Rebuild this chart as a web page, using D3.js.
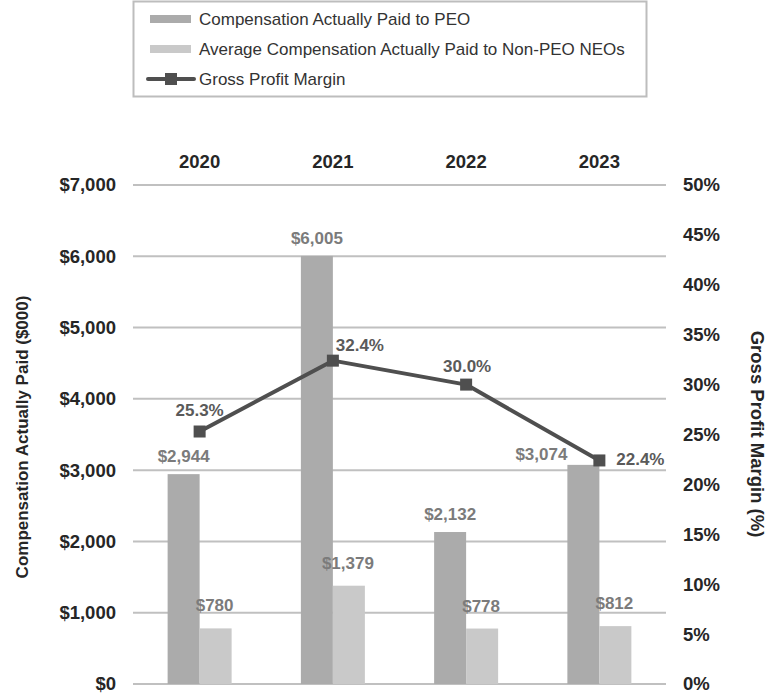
<!DOCTYPE html>
<html>
<head>
<meta charset="utf-8">
<script src="https://cdn.jsdelivr.net/npm/d3@7"></script>
<style>
  body { margin: 0; background: #fff; }
  svg { font-family: "Liberation Sans", Arial, sans-serif; display: block; }
</style>
</head>
<body>
<svg id="chart" width="767" height="696"></svg>
<script>
var years = ["2020", "2021", "2022", "2023"],
    peoPaid = [2944, 6005, 2132, 3074],
    neoPaid = [780, 1379, 778, 812],
    margin = [25.3, 32.4, 30.0, 22.4],
    leftTicks = [0, 1000, 2000, 3000, 4000, 5000, 6000, 7000],
    rightTicks = [0, 5, 10, 15, 20, 25, 30, 35, 40, 45, 50],
    legendNames = ["Compensation Actually Paid to PEO",
                   "Average Compensation Actually Paid to Non-PEO NEOs",
                   "Gross Profit Margin"];

var peoColor = "#ababab",
    neoColor = "#c9c9c9",
    lineColor = "#4f4f4f",
    gridColor = "#c0c0c0",
    axisText = "#262626",
    tickSize = 18.5;

var svg = d3.select("#chart");

var x = d3.scaleBand().domain(years).range([133, 666]);
var yL = d3.scaleLinear().domain([0, 7000]).range([684, 185]);
var yR = d3.scaleLinear().domain([0, 50]).range([684, 185]);
var barW = 32;

var money = d3.format("$,");

// gridlines (left axis ticks only)
svg.append("g").selectAll("line")
    .data(leftTicks)
    .enter().append("line")
    .attr("x1", 133).attr("x2", 666)
    .attr("y1", function(d) { return yL(d); })
    .attr("y2", function(d) { return yL(d); })
    .attr("stroke", gridColor)
    .attr("stroke-width", 2);

function styleTicks(g) {
    g.select(".domain").remove();
    g.selectAll("text").attr("font-size", tickSize).attr("font-weight", "bold")
        .attr("fill", axisText).attr("font-family", "Liberation Sans, Arial, sans-serif");
}

// left axis
var leftAxis = d3.axisLeft(yL).tickValues(leftTicks).tickSize(0).tickPadding(17)
    .tickFormat(function(d) { return money(d); });
svg.append("g").attr("transform", "translate(133,0)").call(leftAxis).call(styleTicks);

// right axis
var rightAxis = d3.axisRight(yR).tickValues(rightTicks).tickSize(0).tickPadding(17)
    .tickFormat(function(d) { return d + "%"; });
svg.append("g").attr("transform", "translate(666,0)").call(rightAxis).call(styleTicks);

// top category axis
var topAxis = d3.axisTop(x).tickSize(0).tickPadding(0);
var gt = svg.append("g").attr("transform", "translate(0,168)").call(topAxis).call(styleTicks);
gt.selectAll("text").attr("dy", 0);

function cx(i) { return x(years[i]) + x.bandwidth() / 2; }

// bars
svg.append("g").selectAll("rect")
    .data(peoPaid)
    .enter().append("rect")
    .attr("x", function(d, i) { return cx(i) - barW; })
    .attr("y", function(d) { return yL(d); })
    .attr("width", barW)
    .attr("height", function(d) { return yL(0) - yL(d); })
    .attr("fill", peoColor);

svg.append("g").selectAll("rect")
    .data(neoPaid)
    .enter().append("rect")
    .attr("x", function(d, i) { return cx(i); })
    .attr("y", function(d) { return yL(d); })
    .attr("width", barW)
    .attr("height", function(d) { return yL(0) - yL(d); })
    .attr("fill", neoColor);

// bar labels
svg.append("g").selectAll("text")
    .data(peoPaid)
    .enter().append("text")
    .attr("x", function(d, i) { return i == 3 ? cx(i) - barW : cx(i) - barW / 2; })
    .attr("y", function(d, i) { return i == 3 ? yL(d) - 5 : yL(d) - 12; })
    .attr("text-anchor", function(d, i) { return i == 3 ? "end" : "middle"; })
    .attr("font-size", 17).attr("font-weight", "bold").attr("fill", "#7b7b7b")
    .text(function(d) { return money(d); });

svg.append("g").selectAll("text")
    .data(neoPaid)
    .enter().append("text")
    .attr("x", function(d, i) { return cx(i) + barW / 2 - 1; })
    .attr("y", function(d) { return yL(d) - 17; })
    .attr("text-anchor", "middle")
    .attr("font-size", 17).attr("font-weight", "bold").attr("fill", "#7b7b7b")
    .text(function(d) { return money(d); });

// line
var line = d3.line()
    .x(function(d, i) { return cx(i); })
    .y(function(d) { return yR(d); });

svg.append("path")
    .datum(margin)
    .attr("d", line)
    .attr("fill", "none")
    .attr("stroke", lineColor)
    .attr("stroke-width", 4)
    .attr("stroke-linejoin", "round");

svg.append("g").selectAll("rect")
    .data(margin)
    .enter().append("rect")
    .attr("x", function(d, i) { return cx(i) - 6; })
    .attr("y", function(d) { return yR(d) - 6; })
    .attr("width", 12).attr("height", 12)
    .attr("fill", lineColor);

// line labels: above, right-above, above, right
var lblDx = [0, 27, 1, 41],
    lblDy = [-16, -10, -13, 5];
svg.append("g").selectAll("text")
    .data(margin)
    .enter().append("text")
    .attr("x", function(d, i) { return cx(i) + lblDx[i]; })
    .attr("y", function(d, i) { return yR(d) + lblDy[i]; })
    .attr("text-anchor", "middle")
    .attr("font-size", 17).attr("font-weight", "bold").attr("fill", "#5a5a5a")
    .text(function(d) { return d.toFixed(1) + "%"; });

// axis titles
svg.append("text")
    .attr("transform", "translate(28,437) rotate(-90)")
    .attr("text-anchor", "middle")
    .attr("font-size", 17).attr("font-weight", "bold").attr("fill", axisText)
    .text("Compensation Actually Paid ($000)");

svg.append("text")
    .attr("transform", "translate(751,434) rotate(90)")
    .attr("text-anchor", "middle")
    .attr("font-size", 18.5).attr("font-weight", "bold").attr("fill", axisText)
    .text("Gross Profit Margin (%)");

// legend
var lg = svg.append("g");
lg.append("rect")
    .attr("x", 133.5).attr("y", 1.5).attr("width", 513).attr("height", 95)
    .attr("fill", "#fff").attr("stroke", "#bdbdbd").attr("stroke-width", 2);

var legendY = [19, 49, 79];
lg.append("rect").attr("x", 150).attr("y", legendY[0] - 4).attr("width", 41).attr("height", 8).attr("fill", peoColor);
lg.append("rect").attr("x", 150).attr("y", legendY[1] - 4).attr("width", 41).attr("height", 8).attr("fill", neoColor);
lg.append("line").attr("x1", 148).attr("x2", 194).attr("y1", legendY[2]).attr("y2", legendY[2])
    .attr("stroke", lineColor).attr("stroke-width", 4).attr("stroke-linecap", "round");
lg.append("rect").attr("x", 165).attr("y", legendY[2] - 6).attr("width", 12).attr("height", 12).attr("fill", lineColor);

lg.selectAll("text.leg")
    .data(legendNames)
    .enter().append("text")
    .attr("class", "leg")
    .attr("x", 199)
    .attr("y", function(d, i) { return legendY[i] + 6; })
    .attr("font-size", 17).attr("fill", "#333")
    .text(function(d) { return d; });
</script>
</body>
</html>
